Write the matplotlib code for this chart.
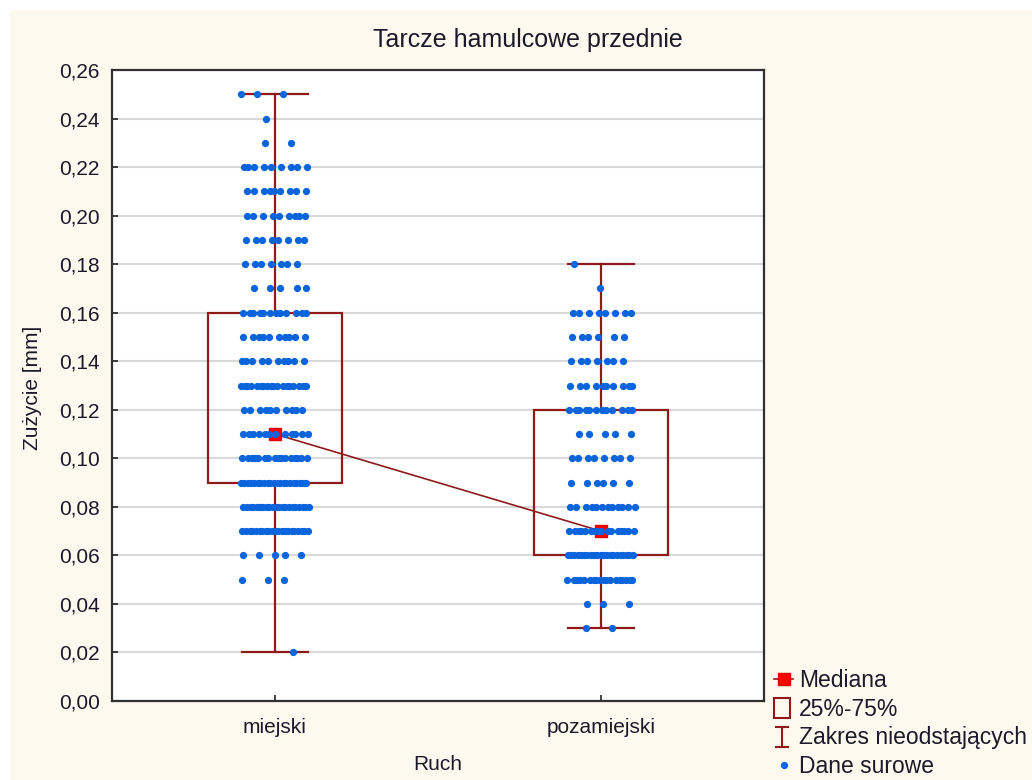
import matplotlib
matplotlib.use('Agg')
import matplotlib.pyplot as plt
import numpy as np
from matplotlib.lines import Line2D
from matplotlib.patches import Rectangle
from matplotlib.legend_handler import HandlerBase

plt.rcParams['font.family'] = ['Liberation Sans', 'DejaVu Sans']

# ---------------------------------------------------------------------------
# Dane
# ---------------------------------------------------------------------------
categories = ['miejski', 'pozamiejski']

# statystyki wykresu ramka-wąsy
medians  = [0.11, 0.07]
q25      = [0.09, 0.06]
q75      = [0.16, 0.12]
whisk_lo = [0.02, 0.03]
whisk_hi = [0.25, 0.18]

# dane surowe: poziom zużycia [mm] i liczba pomiarów na danym poziomie
levels_miejski = [0.25, 0.24, 0.23, 0.22, 0.21, 0.20, 0.19, 0.18, 0.17, 0.16, 0.15,
                  0.14, 0.13, 0.12, 0.11, 0.10, 0.09, 0.08, 0.07, 0.06, 0.05, 0.02]
counts_miejski = [3, 1, 2, 9, 9, 9, 8, 7, 5, 12, 10,
                  10, 18, 10, 12, 16, 22, 22, 22, 5, 3, 1]

levels_pozamiejski = [0.18, 0.17, 0.16, 0.15, 0.14, 0.13, 0.12, 0.11, 0.10,
                      0.09, 0.08, 0.07, 0.06, 0.05, 0.04, 0.03]
counts_pozamiejski = [1, 1, 8, 6, 7, 10, 12, 5, 8,
                      6, 12, 16, 22, 18, 3, 2]

yticks = np.arange(0, 0.261, 0.02)

DARK_RED = '#8E1A1A'
BLUE     = '#0A64DC'
TXT      = '#1a1a2a'
BG       = '#FEF9EF'


def jitter_offsets(n, shift, half_width=0.105):
    # deterministyczny rozrzut poziomy (ciąg złotego podziału)
    k = np.arange(n)
    return ((k * 0.6180339 + shift) % 1.0 - 0.5) * 2 * half_width


class HandlerWhisker(HandlerBase):
    def create_artists(self, legend, orig_handle, xdescent, ydescent,
                       width, height, fontsize, trans):
        cx = width * 0.4 - xdescent
        w = width * 0.3
        y0 = -ydescent - height * 0.15
        y1 = -ydescent + height * 1.1
        lines = [
            Line2D([cx, cx], [y0, y1]),
            Line2D([cx - w, cx + w], [y0, y0]),
            Line2D([cx - w, cx + w], [y1, y1]),
        ]
        for ln in lines:
            ln.set_color(DARK_RED)
            ln.set_linewidth(1.5)
            ln.set_transform(trans)
        return lines


class HandlerBox(HandlerBase):
    def create_artists(self, legend, orig_handle, xdescent, ydescent,
                       width, height, fontsize, trans):
        w = width * 0.8
        r = Rectangle((-xdescent + width * 0.02, -ydescent - height * 0.15), w, height * 1.25,
                      facecolor='none', edgecolor=DARK_RED, linewidth=1.5, transform=trans)
        return [r]


# ---------------------------------------------------------------------------
# Wykres
# ---------------------------------------------------------------------------
fig = plt.figure(figsize=(10.32, 7.8), dpi=100, facecolor='white')
fig.add_artist(Rectangle((10 / 1032, 0), 1, 1 - 10 / 780, transform=fig.transFigure,
                         facecolor=BG, edgecolor='none', zorder=-10))

ax = fig.add_axes([112 / 1032, 79 / 780, 652 / 1032, 631 / 780])
ax.set_facecolor('white')

pos = np.arange(1, len(categories) + 1)
box_w = 0.41
cap_w = 0.205

# linie siatki
for yv in yticks:
    ax.axhline(yv, color='#D9D9D9', linewidth=1.5, zorder=0)

# ramki i wąsy
for i, p in enumerate(pos):
    ax.add_patch(Rectangle((p - box_w / 2, q25[i]), box_w, q75[i] - q25[i],
                           facecolor='none', edgecolor=DARK_RED, linewidth=1.6, zorder=2))
    ax.plot([p, p], [q75[i], whisk_hi[i]], color=DARK_RED, lw=1.6, zorder=2)
    ax.plot([p, p], [whisk_lo[i], q25[i]], color=DARK_RED, lw=1.6, zorder=2)
    ax.plot([p - cap_w / 2, p + cap_w / 2], [whisk_hi[i]] * 2, color=DARK_RED, lw=1.6, zorder=2)
    ax.plot([p - cap_w / 2, p + cap_w / 2], [whisk_lo[i]] * 2, color=DARK_RED, lw=1.6, zorder=2)

# mediany połączone linią
ax.plot(pos, medians, color=DARK_RED, lw=1.2, zorder=3)
ax.plot(pos, medians, linestyle='none', marker='s', markersize=8,
        markerfacecolor='#FF0000', markeredgecolor='#E00000', zorder=4)

# dane surowe
raw = [(levels_miejski, counts_miejski), (levels_pozamiejski, counts_pozamiejski)]
for i, (lv, cn) in enumerate(raw):
    xs, ys = [], []
    for j, (y, n) in enumerate(zip(lv, cn)):
        xs.extend(pos[i] + jitter_offsets(n, shift=0.37 * j + 0.11 * i))
        ys.extend([y] * n)
    ax.plot(xs, ys, linestyle='none', marker='o', markersize=4.2,
            markerfacecolor=BLUE, markeredgecolor=BLUE, zorder=5)

ax.set_xlim(0.5, 2.5)
ax.set_ylim(0, 0.26)
ax.set_xticks(pos)
ax.set_xticklabels(categories)
ax.set_yticks(yticks)
ax.set_yticklabels([f'{v:.2f}'.replace('.', ',') for v in yticks])
ax.tick_params(axis='both', direction='in', length=4, width=1.2, colors='#222222',
               labelsize=15, labelcolor=TXT)
ax.tick_params(axis='x', pad=12)
ax.tick_params(axis='y', pad=9)
for sp in ax.spines.values():
    sp.set_color('#303030')
    sp.set_linewidth(1.6)

fig.text(528 / 1032, 1 - 40 / 780, 'Tarcze hamulcowe przednie', ha='center', va='center',
         fontsize=18, color=TXT)
fig.text(32 / 1032, 1 - 388 / 780, 'Zużycie [mm]', ha='center', va='center',
         rotation=90, fontsize=15, color=TXT)
fig.text(438 / 1032, 1 - 765 / 780, 'Ruch', ha='center', va='center',
         fontsize=15, color=TXT)

# legenda
h_med = Line2D([], [], color=DARK_RED, lw=1.2, marker='s', markersize=8,
               markerfacecolor='#FF0000', markeredgecolor='#E00000')
h_box = Rectangle((0, 0), 1, 1)
h_whisk = Line2D([], [])
h_raw = Line2D([], [], linestyle='none', marker='o', markersize=4.2,
               markerfacecolor=BLUE, markeredgecolor=BLUE)
leg = fig.legend([h_med, h_box, h_whisk, h_raw],
                 ['Mediana', '25%-75%', 'Zakres nieodstających', 'Dane surowe'],
                 handler_map={h_whisk: HandlerWhisker(), h_box: HandlerBox()},
                 loc='upper left', bbox_to_anchor=(774 / 1032, 1 - 669 / 780),
                 frameon=False, fontsize=16.5, handlelength=0.85, handletextpad=0.25,
                 labelspacing=0.25, borderpad=0, borderaxespad=0)
for t in leg.get_texts():
    t.set_color(TXT)

fig.savefig('out.png', dpi=100, facecolor=fig.get_facecolor())
